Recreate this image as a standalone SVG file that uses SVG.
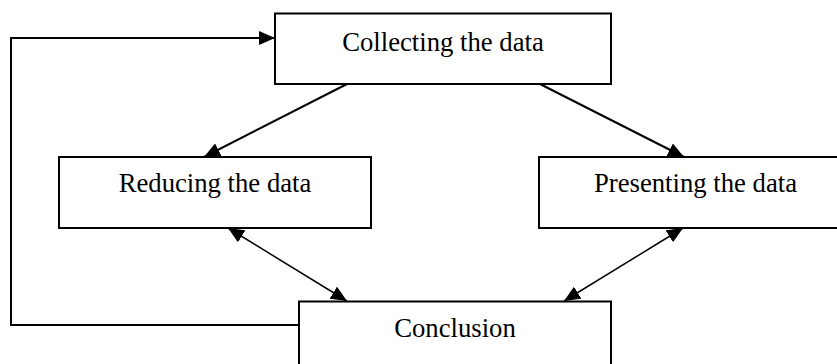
<svg xmlns="http://www.w3.org/2000/svg" width="837" height="364" viewBox="0 0 837 364">
<style>
.box{fill:#fff;stroke:#000;stroke-width:2}
.lbl{font-family:"Liberation Serif","Times New Roman",serif;font-size:26.7px;fill:#000;text-anchor:middle}
.c{fill:none;stroke:#000;stroke-width:2}
.t{fill:none;stroke:#000;stroke-width:1.5}
</style>
<defs>
<marker id="ah" markerUnits="userSpaceOnUse" markerWidth="16" markerHeight="14" refX="16" refY="7" orient="auto"><path d="M0,0 L16,7 L0,14 z" fill="#000"/></marker>
<marker id="ah2" markerUnits="userSpaceOnUse" markerWidth="16" markerHeight="14" refX="16" refY="7" orient="auto-start-reverse"><path d="M0,0 L16,7 L0,14 z" fill="#000"/></marker>
</defs>
<g id="connectors">
<polyline class="c" points="299,325 11,325 11,38 275,38" marker-end="url(#ah)"/>
<line class="c" x1="347" y1="84" x2="204" y2="157" marker-end="url(#ah)"/>
<line class="c" x1="540" y1="84" x2="684" y2="157" marker-end="url(#ah)"/>
<line class="t" x1="228" y1="228" x2="347" y2="301" marker-start="url(#ah2)" marker-end="url(#ah2)"/>
<line class="t" x1="683" y1="228" x2="564" y2="301" marker-start="url(#ah2)" marker-end="url(#ah2)"/>
</g>
<g id="collecting">
<rect class="box" x="275" y="13.5" width="336" height="70.5"/>
<text class="lbl" x="443" y="51">Collecting the data</text>
</g>
<g id="reducing">
<rect class="box" x="59" y="157" width="312" height="71"/>
<text class="lbl" x="215" y="192">Reducing the data</text>
</g>
<g id="presenting">
<rect class="box" x="539" y="157" width="313" height="71"/>
<text class="lbl" x="695.5" y="192">Presenting the data</text>
</g>
<g id="conclusion">
<rect class="box" x="299" y="301.5" width="312" height="72"/>
<text class="lbl" x="455" y="337">Conclusion</text>
</g>
</svg>
